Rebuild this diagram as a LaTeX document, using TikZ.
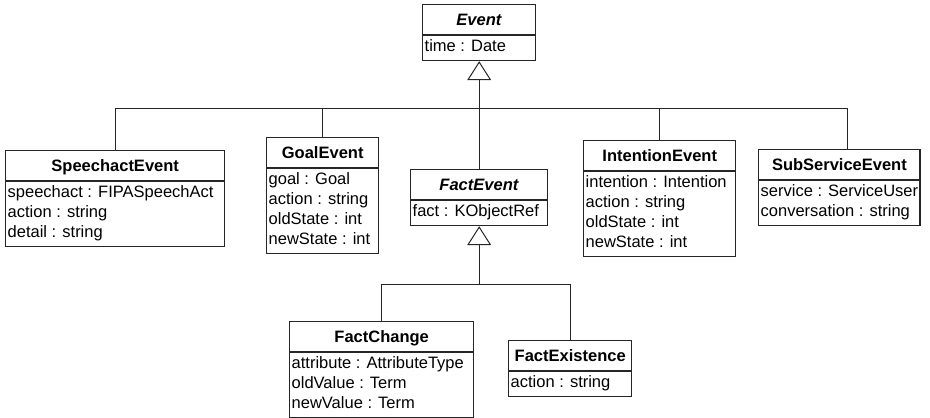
\documentclass[tikz,border=0pt]{standalone}
\usepackage{fontspec}
\setmainfont{Liberation Sans}
\usetikzlibrary{shapes.multipart,arrows.meta,positioning}

\tikzset{
  umlclass/.style={draw=black!85, line width=1.4pt, rectangle split, rectangle split parts=2,
    rectangle split part align={center,left}, anchor=north west,
    inner xsep=2pt, inner ysep=2pt, font=\fontsize{16.5}{20}\selectfont},
  inherit/.style={draw=black!85, line width=1pt},
  gen/.style={inherit, -{Triangle[open,length=19pt,width=24pt]}},
}
\newcommand{\classtitle}[1]{\rule[-7pt]{0pt}{25pt}\textbf{#1}}
\newcommand{\attrs}[1]{\begin{tabular}{@{}l@{}}#1\end{tabular}}

\begin{document}
\begin{tikzpicture}[x=1pt, y=-1pt]
\useasboundingbox (0,0) rectangle (930,418);

\node[umlclass, minimum width=113pt] (event) at (422,4)
        {\classtitle{\textit{Event}} \nodepart{second} \attrs{time : Date}};

\node[umlclass, minimum width=219pt] (speech) at (5,150)
        {\classtitle{SpeechactEvent} \nodepart{second}
         \attrs{speechact : FIPASpeechAct\\ action : string\\ detail : string}};
\node[umlclass, minimum width=112pt] (goal) at (266,137)
        {\classtitle{GoalEvent} \nodepart{second}
         \attrs{goal : Goal\\ action : string\\ oldState : int\\ newState : int}};
\node[umlclass, minimum width=137pt] (fact) at (410,169)
        {\classtitle{\textit{FactEvent}} \nodepart{second} \attrs{fact : KObjectRef}};
\node[umlclass, minimum width=152pt] (intent) at (583,140)
        {\classtitle{IntentionEvent} \nodepart{second}
         \attrs{intention : Intention\\ action : string\\ oldState : int\\ newState : int}};
\node[umlclass, minimum width=156pt] (subserv) at (758,149)
        {\classtitle{SubServiceEvent} \nodepart{second}
         \attrs{service : ServiceUser\\ conversation : string}};

\node[umlclass, minimum width=184pt] (change) at (289,321)
        {\classtitle{FactChange} \nodepart{second}
         \attrs{attribute : AttributeType\\ oldValue : Term\\ newValue : Term}};
\node[umlclass, minimum width=123pt] (exist) at (508,340)
        {\classtitle{FactExistence} \nodepart{second} \attrs{action : string}};

% generalisation trees
\coordinate (ebus) at (event.south |- 0,108);
\draw[gen] (ebus) -- (event.south);
\foreach \c in {speech,goal,fact,intent}
  \draw[inherit] (\c.north) |- (ebus);
\draw[inherit] ([xshift=8pt]subserv.north) |- (ebus);

\coordinate (fbus) at (fact.south |- 0,284);
\draw[gen] (fbus) -- (fact.south);
\foreach \c in {change,exist}
  \draw[inherit] (\c.north) |- (fbus);
\end{tikzpicture}
\end{document}
